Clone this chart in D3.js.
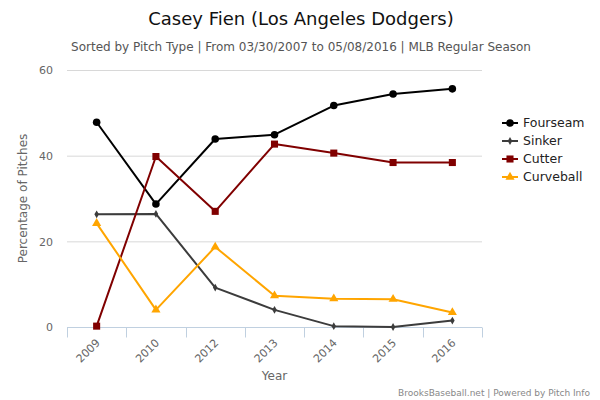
<!DOCTYPE html>
<html><head><meta charset="utf-8">
<script src="https://cdn.jsdelivr.net/npm/d3@7"></script>
<style>body{margin:0;background:#fff}svg{display:block;font-family:"DejaVu Sans",sans-serif}</style>
</head><body><svg id="c" width="600" height="400"></svg>
<script>
const years = ["2009","2010","2012","2013","2014","2015","2016"];
const fourseam = [47.8, 28.7, 43.9, 44.9, 51.7, 54.4, 55.6];
const sinker = [26.3, 26.4, 9.2, 4.0, 0.2, 0.0, 1.5];
const cutter = [0.2, 39.8, 27.0, 42.7, 40.6, 38.4, 38.4];
const curveball = [24.2, 4.0, 18.7, 7.3, 6.6, 6.5, 3.4];
const yTicks = [0, 20, 40, 60];
const seriesNames = ["Fourseam","Sinker","Cutter","Curveball"];

const series = [
  {name: seriesNames[0], values: fourseam, color: "#000000", sym: d3.symbolCircle, size: 45},
  {name: seriesNames[1], values: sinker, color: "#3c3c3c", sym: d3.symbolDiamond, size: 18},
  {name: seriesNames[2], values: cutter, color: "#800000", sym: d3.symbolSquare, size: 50},
  {name: seriesNames[3], values: curveball, color: "#FFA500", sym: d3.symbolTriangle, size: 36}
];

const svg = d3.select("#c");
const L = 67, R = 482, T = 70, B = 327;
const x = d3.scaleBand().domain(years).range([L, R]);
const y = d3.scaleLinear().domain([0, 60]).range([B, T]);

// title
svg.append("text").attr("x", 301).attr("y", 25).attr("text-anchor", "middle")
  .attr("font-size", 18).attr("fill", "#111").text("Casey Fien (Los Angeles Dodgers)");
svg.append("text").attr("x", 301).attr("y", 51).attr("text-anchor", "middle")
  .attr("font-size", 12).attr("fill", "#555")
  .text("Sorted by Pitch Type | From 03/30/2007 to 05/08/2016 | MLB Regular Season");

// grid
svg.append("g").selectAll("line").data(yTicks.filter(d => d > 0)).join("line")
  .attr("x1", L).attr("x2", R).attr("y1", d => y(d) + 0.5).attr("y2", d => y(d) + 0.5)
  .attr("stroke", "#d8d8d8").attr("stroke-width", 1);

// y axis labels
const yAxis = d3.axisLeft(y).tickValues(yTicks).tickSize(0).tickPadding(0);
const gy = svg.append("g").attr("transform", `translate(${L - 14},0)`).call(yAxis);
gy.select(".domain").remove();
gy.selectAll("text").attr("font-size", 11).attr("fill", "#666").attr("font-family", "DejaVu Sans, sans-serif").attr("dy", "0.35em");

svg.append("text").attr("transform", `translate(27,${(T + B) / 2}) rotate(-90)`)
  .attr("text-anchor", "middle").attr("font-size", 12).attr("fill", "#666").text("Percentage of Pitches");

// x axis
const gx = svg.append("g").attr("transform", `translate(0,${B + 0.5})`);
gx.append("line").attr("x1", L).attr("x2", R).attr("stroke", "#c0d0e0");
const bounds = years.map(d => x(d)).concat([x(years[years.length - 1]) + x.bandwidth()]);
gx.selectAll("line.t").data(bounds).join("line").attr("class", "t")
  .attr("x1", d => Math.round(d) + 0.5).attr("x2", d => Math.round(d) + 0.5).attr("y1", 0).attr("y2", 10)
  .attr("stroke", "#c0d0e0");
gx.selectAll("text").data(years).join("text")
  .attr("transform", d => `translate(${x(d) + x.bandwidth() / 2 + 4},${16}) rotate(-45)`)
  .attr("text-anchor", "end").attr("font-size", 11).attr("fill", "#666").text(d => d);

svg.append("text").attr("x", (L + R) / 2).attr("y", 380).attr("text-anchor", "middle")
  .attr("font-size", 12).attr("fill", "#666").text("Year");

// lines
const cx = d => x(d) + x.bandwidth() / 2;
const line = d3.line().x((v, i) => cx(years[i])).y(v => y(v));
series.forEach(s => {
  svg.append("path").attr("d", line(s.values)).attr("fill", "none")
    .attr("stroke", s.color).attr("stroke-width", 2).attr("stroke-linejoin", "round");
  svg.append("g").selectAll("path").data(s.values).join("path")
    .attr("transform", (v, i) => `translate(${cx(years[i])},${y(v)})`)
    .attr("d", d3.symbol().type(s.sym).size(s.size)).attr("fill", s.color);
});

// legend
const lg = svg.append("g").attr("transform", "translate(502,123)");
series.forEach((s, i) => {
  const g = lg.append("g").attr("transform", `translate(0,${i * 18})`);
  g.append("line").attr("x1", 0).attr("x2", 16).attr("stroke", s.color).attr("stroke-width", 2);
  g.append("path").attr("transform", "translate(8,0)").attr("d", d3.symbol().type(s.sym).size(s.size)).attr("fill", s.color);
  g.append("text").attr("x", 21).attr("y", 0).attr("dy", "0.35em").attr("font-size", 12.5).attr("fill", "#222").text(s.name);
});

svg.append("text").attr("x", 590).attr("y", 396).attr("text-anchor", "end")
  .attr("font-size", 9).attr("fill", "#888").text("BrooksBaseball.net | Powered by Pitch Info");
</script></body></html>
